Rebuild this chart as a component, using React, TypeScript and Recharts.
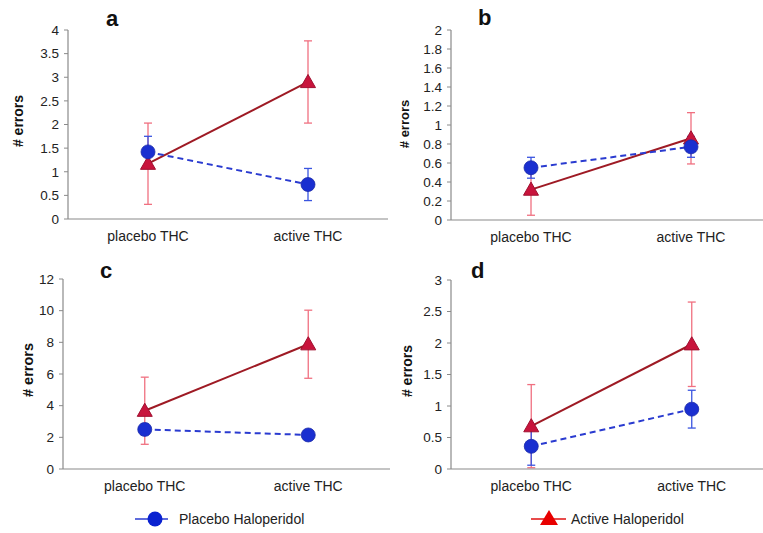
import React from 'react';
import { LineChart, Line, XAxis, YAxis, ErrorBar } from 'recharts';

const categories = ['placebo THC', 'active THC'];
const categoryPositions = [0.5, 1.5];

const placeboHaloA = [1.42, 0.73];
const placeboHaloErrA = [0.33, 0.34];
const activeHaloA = [1.17, 2.9];
const activeHaloErrA = [0.86, 0.87];
const ticksA = [0, 0.5, 1, 1.5, 2, 2.5, 3, 3.5, 4];

const placeboHaloB = [0.55, 0.77];
const placeboHaloErrB = [0.11, 0.11];
const activeHaloB = [0.32, 0.86];
const activeHaloErrB = [0.27, 0.27];
const ticksB = [0, 0.2, 0.4, 0.6, 0.8, 1, 1.2, 1.4, 1.6, 1.8, 2];

const placeboHaloC = [2.5, 2.15];
const placeboHaloErrC = [0.35, 0.3];
const activeHaloC = [3.68, 7.88];
const activeHaloErrC = [2.12, 2.15];
const ticksC = [0, 2, 4, 6, 8, 10, 12];

const placeboHaloD = [0.36, 0.95];
const placeboHaloErrD = [0.3, 0.3];
const activeHaloD = [0.68, 1.98];
const activeHaloErrD = [0.66, 0.67];
const ticksD = [0, 0.5, 1, 1.5, 2, 2.5, 3];

const FONT = '"Liberation Sans", Arial, sans-serif';
const BLUE_LINE = '#2a3bd0';
const BLUE_DOT = '#1a2fd0';
const BLUE_ERR = '#3a55e0';
const RED_LINE = '#9e1a24';
const RED_DOT = '#c8143c';
const RED_ERR = '#f07080';
const AXIS = '#8a8a8a';

function buildRows(ph: number[], phErr: number[], ah: number[], ahErr: number[]) {
  return categories.map((c, i) => ({
    x: categoryPositions[i],
    cat: c,
    ph: ph[i],
    phErr: phErr[i],
    ah: ah[i],
    ahErr: ahErr[i],
  }));
}

const Triangle = (props: any) => {
  const { cx, cy } = props;
  if (cx == null || cy == null) return null;
  const s = 7.5;
  return (
    <polygon
      points={`${cx},${cy - s} ${cx - s},${cy + s * 0.75} ${cx + s},${cy + s * 0.75}`}
      fill={RED_DOT}
      stroke="#a01030"
      strokeWidth={1}
    />
  );
};

const Circle = (props: any) => {
  const { cx, cy } = props;
  if (cx == null || cy == null) return null;
  return <circle cx={cx} cy={cy} r={7} fill={BLUE_DOT} stroke="#1a2aa8" strokeWidth={0.8} />;
};

type PanelProps = {
  left: number;
  top: number;
  width: number;
  height: number;
  yWidth: number;
  margin: { top: number; right: number; bottom: number; left: number };
  rows: any[];
  ticks: number[];
};

function Panel({ left, top, width, height, yWidth, margin, rows, ticks }: PanelProps) {
  const max = ticks[ticks.length - 1];
  return (
    <div style={{ position: 'absolute', left, top }}>
      <LineChart width={width} height={height} data={rows} margin={margin}>
        <XAxis
          dataKey="x"
          type="number"
          domain={[0, 2]}
          ticks={[0, 1, 2]}
          tick={false}
          tickSize={5}
          height={6}
          axisLine={{ stroke: AXIS, strokeWidth: 1.2 }}
          tickLine={{ stroke: AXIS }}
        />
        <XAxis
          xAxisId="labels"
          dataKey="x"
          type="number"
          domain={[0, 2]}
          ticks={categoryPositions}
          tickFormatter={(v: number) => categories[Math.floor(v)]}
          axisLine={false}
          tickLine={false}
          tickSize={0}
          tickMargin={6}
          height={30}
          tick={{ fill: '#222', fontSize: 14, fontFamily: FONT }}
        />
        <YAxis
          type="number"
          domain={[0, max]}
          ticks={ticks}
          width={yWidth}
          tickSize={4}
          tickMargin={5}
          interval={0}
          axisLine={{ stroke: AXIS, strokeWidth: 1.2 }}
          tickLine={{ stroke: AXIS }}
          tick={{ fill: '#222', fontSize: 13.5, fontFamily: FONT }}
        />
        <Line
          dataKey="ah"
          stroke={RED_LINE}
          strokeWidth={2}
          dot={<Triangle />}
          activeDot={false}
          isAnimationActive={false}
        >
          <ErrorBar dataKey="ahErr" direction="y" width={4} stroke={RED_ERR} strokeWidth={1.3} />
        </Line>
        <Line
          dataKey="ph"
          stroke={BLUE_LINE}
          strokeWidth={2}
          strokeDasharray="6 4"
          dot={<Circle />}
          activeDot={false}
          isAnimationActive={false}
        >
          <ErrorBar dataKey="phErr" direction="y" width={4} stroke={BLUE_ERR} strokeWidth={1.3} />
        </Line>
      </LineChart>
    </div>
  );
}

export default function App() {
  const rowsA = buildRows(placeboHaloA, placeboHaloErrA, activeHaloA, activeHaloErrA);
  const rowsB = buildRows(placeboHaloB, placeboHaloErrB, activeHaloB, activeHaloErrB);
  const rowsC = buildRows(placeboHaloC, placeboHaloErrC, activeHaloC, activeHaloErrC);
  const rowsD = buildRows(placeboHaloD, placeboHaloErrD, activeHaloD, activeHaloErrD);

  return (
    <div
      style={{
        position: 'absolute',
        left: 0,
        top: 0,
        width: 763,
        height: 533,
        overflow: 'hidden',
        background: '#fff',
        fontFamily: FONT,
      }}
    >
      <Panel left={0} top={0} width={392} height={260} yWidth={68}
        margin={{ top: 30, right: 4, bottom: 5, left: 0 }} rows={rowsA} ticks={ticksA} />
      <Panel left={390} top={0} width={385} height={260} yWidth={61}
        margin={{ top: 30, right: 4, bottom: 4, left: 0 }} rows={rowsB} ticks={ticksB} />
      <Panel left={0} top={250} width={394} height={260} yWidth={63}
        margin={{ top: 29, right: 4, bottom: 5, left: 0 }} rows={rowsC} ticks={ticksC} />
      <Panel left={390} top={250} width={387} height={260} yWidth={61}
        margin={{ top: 30, right: 5, bottom: 5, left: 0 }} rows={rowsD} ticks={ticksD} />

      <svg width={763} height={533} style={{ position: 'absolute', left: 0, top: 0, pointerEvents: 'none' }}>
        <g fontFamily={FONT} fontWeight="bold" fill="#111">
          <text x={106} y={26} fontSize={22}>a</text>
          <text x={478} y={25} fontSize={22}>b</text>
          <text x={100} y={278} fontSize={22}>c</text>
          <text x={471} y={278} fontSize={22}>d</text>
          <text transform="translate(23,121) rotate(-90)" textAnchor="middle" fontSize={14}># errors</text>
          <text transform="translate(409,124) rotate(-90)" textAnchor="middle" fontSize={13}># errors</text>
          <text transform="translate(33,370) rotate(-90)" textAnchor="middle" fontSize={14.5}># errors</text>
          <text transform="translate(412,371) rotate(-90)" textAnchor="middle" fontSize={14}># errors</text>
        </g>
        <g>
          <line x1={135} y1={519} x2={168} y2={519} stroke={BLUE_LINE} strokeWidth={1.5} />
          <circle cx={155} cy={519} r={7.5} fill="#0a22d0" />
          <text x={179} y={524} fontSize={14} fontFamily={FONT} fill="#222">Placebo Haloperidol</text>
          <line x1={531} y1={519} x2={566} y2={519} stroke="#e01010" strokeWidth={1.5} />
          <polygon points="549,510 540,525 558,525" fill="#e80000" />
          <text x={571} y={524} fontSize={14} fontFamily={FONT} fill="#222">Active Haloperidol</text>
        </g>
      </svg>
    </div>
  );
}
